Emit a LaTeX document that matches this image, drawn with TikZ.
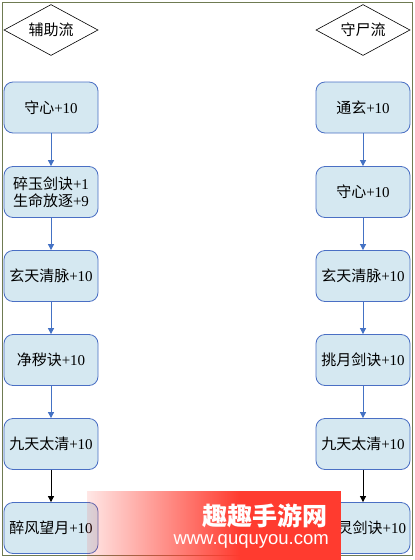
\documentclass[tikz,border=0pt]{standalone}
\usepackage{fontspec}
\setmainfont{Liberation Serif}
\newfontfamily\cjk{Noto Sans CJK SC}
\newfontfamily\wmfont{Liberation Sans}
\usetikzlibrary{shapes.geometric,arrows.meta,fadings}
\definecolor{nodefill}{HTML}{D5E8F1}
\definecolor{nodeedge}{HTML}{4A6FC4}
\definecolor{arrowblue}{HTML}{4472C4}
\definecolor{framecol}{HTML}{6F7B52}
\definecolor{wmred}{HTML}{FF3B2F}
\tikzfading[name=wmfade, left color=transparent!88, right color=transparent!0]
\newcommand{\zh}[1]{{\cjk #1}}
\begin{document}
\begin{tikzpicture}[x=1pt,y=-1pt,
  stepbox/.style={draw=nodeedge, fill=nodefill, rounded corners=9pt, line width=0.8pt,
    minimum width=94pt, minimum height=51pt, inner sep=2pt,
    font=\fontsize{15}{17}\selectfont, align=center},
  headbox/.style={draw=black, fill=white, diamond, aspect=1.85, line width=0.6pt,
    minimum width=94pt, minimum height=51pt, inner sep=0pt,
    font=\fontsize{15}{17}\selectfont},
  flow/.style={draw=arrowblue, line width=0.8pt, -{Triangle[width=6pt,length=6pt]}},
  lastflow/.style={draw=black, line width=0.8pt, -{Triangle[width=6pt,length=6pt]}}]
\useasboundingbox (0,0) rectangle (415,560);
\fill[white] (0,0) rectangle (415,560);
\draw[framecol, line width=0.8pt] (2,2) rectangle (412,555);

% left column
\node[headbox] (lh) at (51,30) {\zh{辅助流}};
\node[stepbox] (l1) at (51,107.5) {\zh{守心}+10};
\node[stepbox] (l2) at (51,192) {\zh{碎玉剑诀}+1\\\zh{生命放逐}+9};
\node[stepbox] (l3) at (51,276) {\zh{玄天清脉}+10};
\node[stepbox] (l4) at (51,360) {\zh{净秽诀}+10};
\node[stepbox] (l5) at (51,444) {\zh{九天太清}+10};
\node[stepbox] (l6) at (51,528) {\zh{醉风望月}+10};

% right column
\node[headbox] (rh) at (363,30) {\zh{守尸流}};
\node[stepbox] (r1) at (363,107.5) {\zh{通玄}+10};
\node[stepbox] (r2) at (363,192) {\zh{守心}+10};
\node[stepbox] (r3) at (363,276) {\zh{玄天清脉}+10};
\node[stepbox] (r4) at (363,360) {\zh{挑月剑诀}+10};
\node[stepbox] (r5) at (363,444) {\zh{九天太清}+10};
\node[stepbox, text width=86pt, align=right] (r6) at (363,528) {\zh{灵剑诀}+10};

\draw[flow] (l1) -- (l2);
\draw[flow] (l2) -- (l3);
\draw[flow] (l3) -- (l4);
\draw[flow] (l4) -- (l5);
\draw[lastflow] (l5) -- (l6);
\draw[flow] (r1) -- (r2);
\draw[flow] (r2) -- (r3);
\draw[flow] (r3) -- (r4);
\draw[flow] (r4) -- (r5);
\draw[lastflow] (r5) -- (r6);

% watermark
\fill[wmred, path fading=wmfade] (87,491) rectangle (240,560);
\fill[wmred] (239.5,491) rectangle (341,560);
\node[text=white, font=\cjk\bfseries\fontsize{25}{27}\selectfont, anchor=east, inner sep=0pt] (wm1) at (328,516) {趣趣手游网};
\node[text=white, font=\wmfont\fontsize{18.5}{20}\selectfont, anchor=east, inner sep=0pt] (wm2) at (329,541) {www.ququyou.com};
\end{tikzpicture}
\end{document}
